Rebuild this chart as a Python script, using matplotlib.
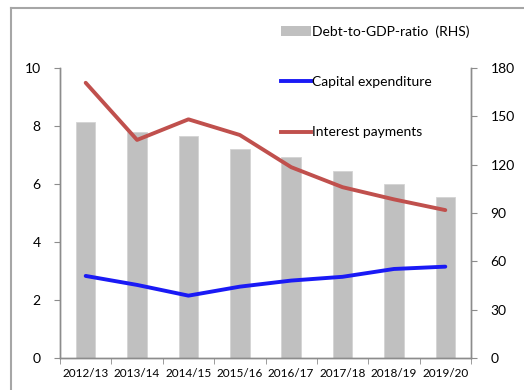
import matplotlib
matplotlib.use("Agg")
import matplotlib.pyplot as plt
from matplotlib.lines import Line2D
import numpy as np

plt.rcParams["font.family"] = ["Lato", "DejaVu Sans"]

# ── Data ───────────────────────────────────────────────────────────────
years = ["2012/13", "2013/14", "2014/15", "2015/16",
         "2016/17", "2017/18", "2018/19", "2019/20"]
debt_to_gdp = [146.7, 140.0, 138.0, 130.0, 124.8, 116.0, 108.0, 100.0]   # RHS
capital_exp = [2.83, 2.52, 2.15, 2.46, 2.67, 2.80, 3.07, 3.15]
interest    = [9.49, 7.52, 8.23, 7.69, 6.58, 5.89, 5.47, 5.10]

left_ticks  = [0, 2, 4, 6, 8, 10]
right_ticks = [0, 30, 60, 90, 120, 150, 180]

AXIS_GREY = "#8c8c8c"
BAR_GREY  = "#c0c0c0"
BLUE      = "#1a1af5"
RED       = "#c0504d"

W, H = 524, 390
fig = plt.figure(figsize=(W / 100, H / 100), dpi=100, facecolor="white")

# axes box in pixel units -> figure fractions
x0, x1, y_top, y_bot = 60, 471, 68, 358
ax = fig.add_axes([x0 / W, (H - y_bot) / H, (x1 - x0) / W, (y_bot - y_top) / H])
ax2 = ax.twinx()

x = np.arange(len(years))

# bars on the right-hand scale, behind the lines
ax2.bar(x, debt_to_gdp, width=0.38, color=BAR_GREY, edgecolor="#d4d4d4",
        linewidth=0.6, zorder=1)

ax.set_zorder(ax2.get_zorder() + 1)
ax.patch.set_visible(False)
ax.plot(x, capital_exp, color=BLUE, linewidth=2.8, solid_capstyle="round")
ax.plot(x, interest, color=RED, linewidth=2.8, solid_capstyle="round")

ax.set_xlim(-0.5, len(years) - 0.5)
ax.set_ylim(0, 10)
ax2.set_ylim(0, 180)
ax.set_yticks(left_ticks)
ax2.set_yticks(right_ticks)

# category labels centred, tick marks between categories
ax.set_xticks(x)
ax.set_xticklabels(years, fontsize=8.5)
ax.set_xticks(np.arange(-0.5, len(years)), minor=True)
ax.tick_params(axis="x", which="major", length=0, pad=7)
ax.tick_params(axis="x", which="minor", length=4, color=AXIS_GREY, direction="out")
ax.tick_params(axis="y", labelsize=10, length=4, color=AXIS_GREY, pad=10)
ax2.tick_params(axis="y", labelsize=10, length=4, color=AXIS_GREY, pad=10)

for a in (ax, ax2):
    a.spines["top"].set_visible(False)
    for s in ("left", "right", "bottom"):
        a.spines[s].set_color(AXIS_GREY)
        a.spines[s].set_linewidth(1.0)

# legend stacked above the plot area
handles = [
    plt.Rectangle((0, 0), 1, 1, facecolor=BAR_GREY, edgecolor="none"),
    Line2D([0], [0], color=BLUE, linewidth=2.8),
    Line2D([0], [0], color=RED, linewidth=2.8),
]
labels = ["Debt-to-GDP-ratio  (RHS)", "Capital expenditure", "Interest payments"]
fig.legend(handles, labels, loc="upper left",
           bbox_to_anchor=(275 / W, 1 - 20 / H), frameon=False,
           fontsize=10, handlelength=2.2, handletextpad=0.1,
           labelspacing=2.75, borderaxespad=0)

# outer chart frame
frame_kw = dict(color="#a6a6a6", linewidth=1.5, transform=fig.transFigure)
fig.add_artist(Line2D([11 / W, 11 / W], [0, 1 - 8 / H], **frame_kw))
fig.add_artist(Line2D([11 / W, 1], [1 - 8 / H, 1 - 8 / H], **frame_kw))

fig.savefig("out.png", dpi=100, facecolor="white")
